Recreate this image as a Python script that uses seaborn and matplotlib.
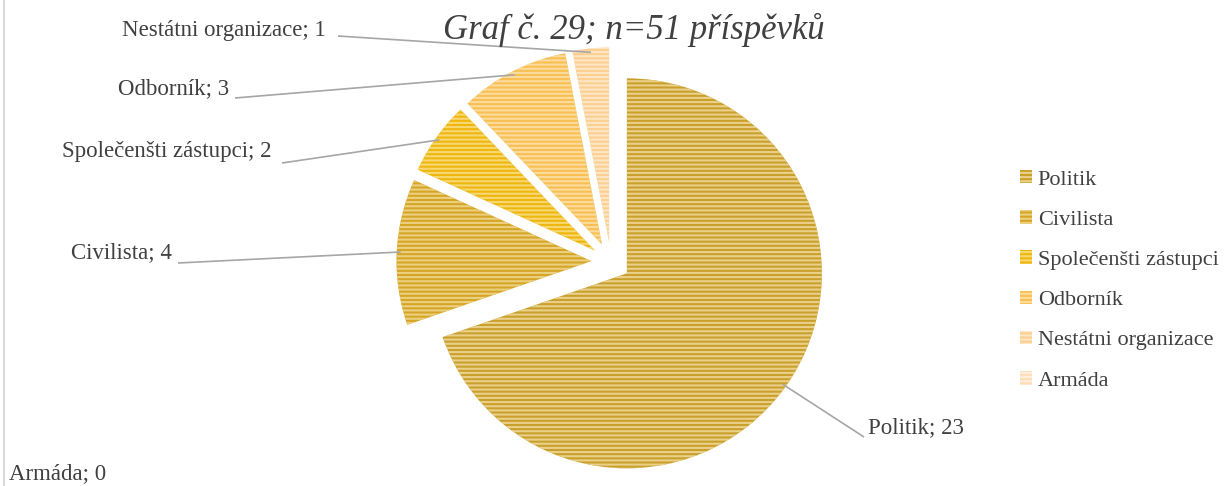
import numpy as np
import matplotlib
matplotlib.use("Agg")
import matplotlib.pyplot as plt
import seaborn as sns

# data
categories = ["Politik", "Civilista", "Společenšti zástupci", "Odborník",
              "Nestátni organizace", "Armáda"]
values = [23, 4, 2, 3, 1, 0]
title = "Graf č. 29; n=51 příspěvků"

# colours (base + stripe)
base_colors = ["#c9a02c", "#d5a626", "#efb60e", "#f8bf52", "#fbcf90", "#fddcb8"]
stripe_colors = ["#ead08a", "#eccf80", "#f8d873", "#fcdb9e", "#fde6c6", "#feeedd"]

sns.set_theme(style="white")
plt.rcParams["font.family"] = ["Liberation Serif", "DejaVu Serif"]
plt.rcParams["hatch.linewidth"] = 1.5

W, H = 1230, 486
fig = plt.figure(figsize=(W / 100, H / 100), dpi=100)
ax = fig.add_axes([0, 0, 1, 1])

wedges, _ = ax.pie(values, startangle=90, counterclock=False,
                   explode=[0.1] * len(values), colors=base_colors)
for w, sc in zip(wedges, stripe_colors):
    w.set_edgecolor(sc)
    w.set_hatch("----")
    w.set_linewidth(0)

# pixel scale: radius 1 -> 195 px, pie centre at (611, 262) from top-left
r_px = 195.0
cx, cy = 611.0, 262.0
ax.set_aspect("auto")
ax.set_xlim(-cx / r_px, (W - cx) / r_px)
ax.set_ylim(-(H - cy) / r_px, cy / r_px)
ax.axis("off")

# label text positions (pixels from top-left, left edge / vertical centre)
label_pos = [(868, 428), (71, 253), (62, 151), (118, 89), (122, 30), (9, 474)]
line_end = [(864, 437), (178, 263), (282, 163), (235, 98), (338, 36), None]

def px_to_data(x, y):
    return (x - cx) / r_px, (cy - y) / r_px

for w, cat, val, (tx, ty), le in zip(wedges, categories, values, label_pos, line_end):
    txt = f"{cat}; {val}"
    ax.text(*px_to_data(tx, ty), txt, ha="left", va="center", fontsize=16.5,
            color="#404040")
    if le is None:
        continue
    ang = np.deg2rad((w.theta1 + w.theta2) / 2)
    ccx, ccy = w.center
    ex = ccx + 0.98 * w.r * np.cos(ang)
    ey = ccy + 0.98 * w.r * np.sin(ang)
    lx, ly = px_to_data(*le)
    ax.plot([lx, ex], [ly, ey], color="#a6a6a6", lw=1.2, solid_capstyle="butt")

# title
ax.text(*px_to_data(634, 30), title, ha="center", va="center", fontsize=25,
        style="italic", color="#404040")

# legend
fig.legend(handles=wedges, labels=categories, loc="upper left",
           bbox_to_anchor=(1020 / W, 1 - 170 / H), frameon=False,
           borderaxespad=0, borderpad=0,
           fontsize=16, handlelength=0.55, handleheight=0.55, handletextpad=0.25,
           labelspacing=0.93, labelcolor="#404040")

# left border of chart area
fig.add_artist(plt.Line2D([4 / W, 4 / W], [0, 1], color="#d9d9d9", lw=1.5))

fig.savefig("out.png", dpi=100, facecolor="white")
